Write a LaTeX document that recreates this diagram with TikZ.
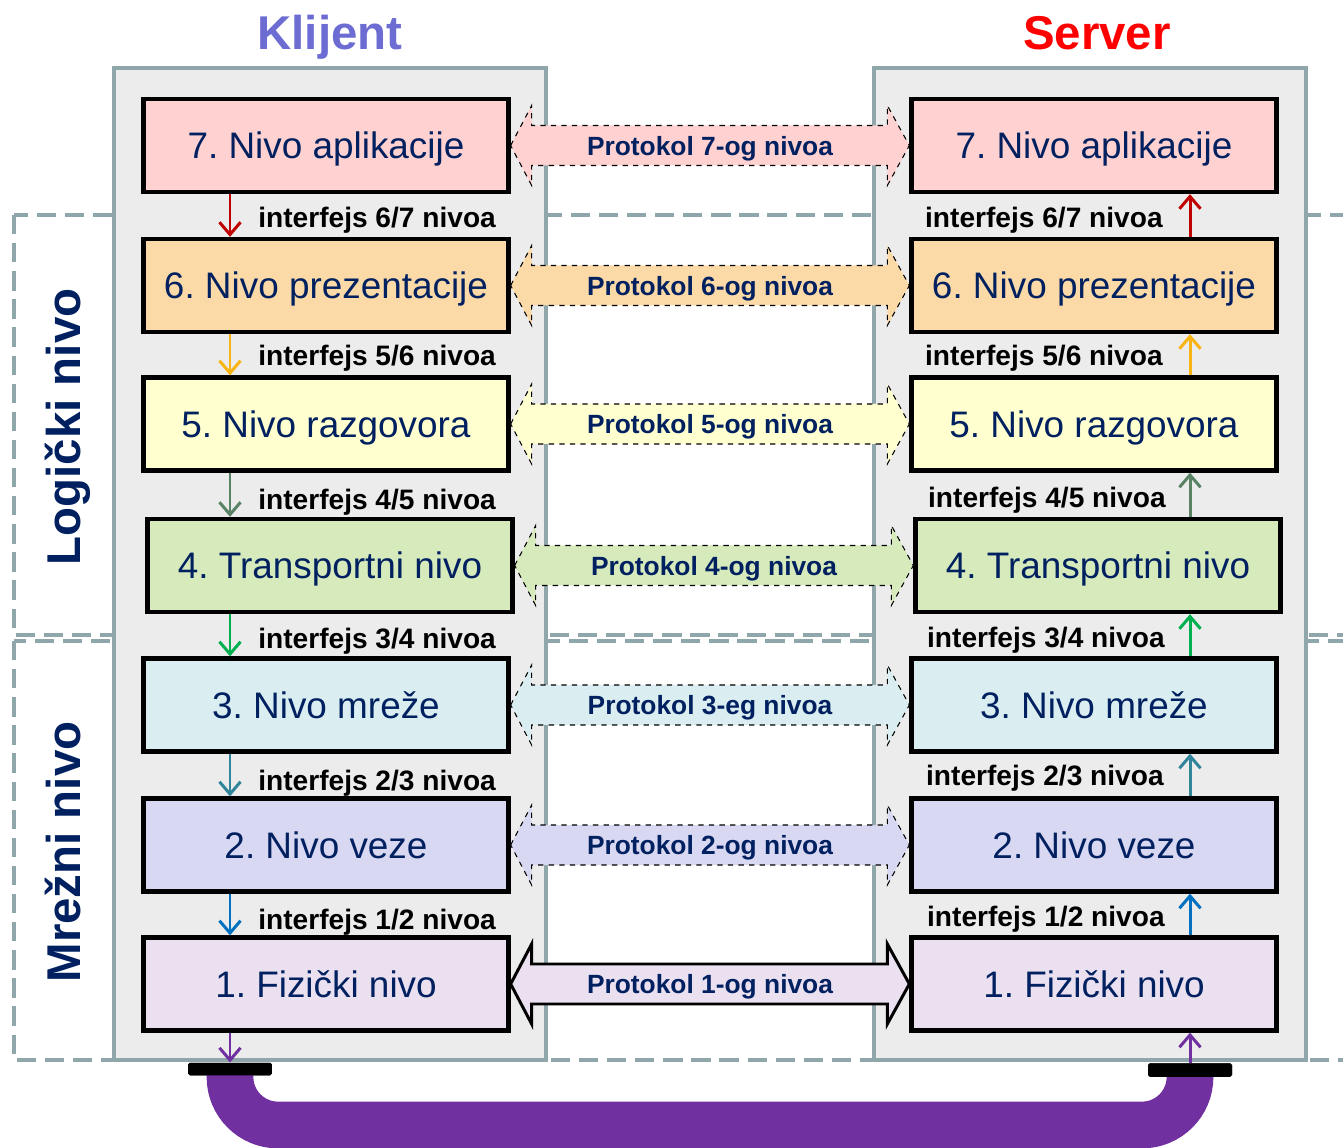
\documentclass[tikz,border=0pt]{standalone}
\usepackage{fontspec}
\setmainfont{Liberation Sans}
\usetikzlibrary{calc,arrows.meta}
\frenchspacing

\definecolor{navy}{RGB}{0,32,96}
\definecolor{klijentplava}{RGB}{108,108,210}
\definecolor{panelrub}{RGB}{143,167,170}
\definecolor{panelboja}{RGB}{236,236,236}
\definecolor{l7}{RGB}{255,209,209}
\definecolor{l6}{RGB}{252,218,167}
\definecolor{l5}{RGB}{255,255,208}
\definecolor{l4}{RGB}{214,234,188}
\definecolor{l3}{RGB}{218,238,241}
\definecolor{l2}{RGB}{216,216,242}
\definecolor{l1}{RGB}{235,224,240}
\definecolor{a7}{RGB}{192,0,0}
\definecolor{a6}{RGB}{247,180,20}
\definecolor{a5}{RGB}{90,130,100}
\definecolor{a4}{RGB}{0,176,80}
\definecolor{a3}{RGB}{49,133,155}
\definecolor{a2}{RGB}{0,112,192}
\definecolor{a1}{RGB}{112,48,160}

\tikzset{
  nivo/.style={draw=black, line width=2.5pt, minimum width=7.3cm, minimum height=1.86cm, inner sep=0pt, text=navy, text height=15.5pt, text depth=0.5pt, font=\fontsize{21}{25}\selectfont},
  interfejs/.style={font=\bfseries\fontsize{16}{19}\selectfont, inner sep=0pt, text height=11.5pt, text depth=0pt},
  prot/.style={draw=black, line width=0.6pt, dashed},
  protpuna/.style={draw=black, line width=1.7pt},
  protnatpis/.style={text=navy, font=\bfseries\fontsize{15}{18}\selectfont, inner sep=0pt, text height=11pt, text depth=0pt},
  veza/.style={line width=1.7pt, -{Straight Barb[length=7pt,width=12pt]}},
  podela/.style={draw=panelrub, line width=2pt, dash pattern=on 11pt off 5pt},
  panel/.style={draw=panelrub, fill=panelboja, line width=2.3pt},
  naslov/.style={font=\bfseries\fontsize{27}{32}\selectfont, inner sep=0pt, text height=19.5pt, text depth=0pt},
  konektor/.style={fill=black, minimum width=1.68cm, minimum height=0.25cm, inner sep=0pt, rounded corners=1pt},
  kabl/.style={draw=a1, line width=26.6pt, rounded corners=0.96cm}
}

\newcommand{\protstrelica}[3]{%
  \draw[#1] (#2) -- ($(#2)+(21,-40)$) -- ($(#2)+(21,-20)$) -- ($(#3)+(-22,-20)$) -- ($(#3)+(-22,-40)$) -- (#3) -- ($(#3)+(-22,40)$) -- ($(#3)+(-22,20)$) -- ($(#2)+(21,20)$) -- ($(#2)+(21,40)$) -- cycle;}

\begin{document}
\begin{tikzpicture}[x=0.02cm, y=-0.02cm]
    \useasboundingbox (0,0) rectangle (1343,1148);
    \clip (0,0) rectangle (1343,1148);

    % podela na logicki i mrezni nivo
    \draw[podela] (14,215) rectangle (1400,635);
    \draw[podela] (14,641) rectangle (1400,1060);

    \node[naslov, rotate=90, text=navy] (logicki) at (63,427) {Logički nivo};
    \node[naslov, rotate=90, text=navy] (mrezni) at (63,852) {Mrežni nivo};

    % kabl
    \node[konektor] (kk) at (230,1069) {};
    \node[konektor, minimum height=0.27cm] (sk) at (1190,1070) {};
    \draw[kabl] (kk.center) |- (sk.center |- 0,1125) -- (sk.center);
    \node[konektor] at (kk) {};
    \node[konektor, minimum height=0.27cm] at (sk) {};

    % paneli
    \draw[panel] (114,68) rectangle (546,1060);
    \draw[panel] (874,68) rectangle (1306,1060);

    \node[naslov, text=klijentplava] (klijent) at (330,32) {Klijent};
    \node[naslov, text=red] (server) at (1097,32) {Server};

    % klijent
    \node[nivo, fill=l7] (k7) at (326,145.5) {7. Nivo aplikacije};
    \node[nivo, fill=l6] (k6) at (326,285.5) {6. Nivo prezentacije};
    \node[nivo, fill=l5] (k5) at (326,424) {5. Nivo razgovora};
    \node[nivo, fill=l4] (k4) at (330,565.5) {4. Transportni nivo};
    \node[nivo, fill=l3] (k3) at (326,705) {3. Nivo mreže};
    \node[nivo, fill=l2] (k2) at (326,845) {2. Nivo veze};
    \node[nivo, fill=l1] (k1) at (326,984) {1. Fizički nivo};

    % server
    \node[nivo, fill=l7] (s7) at (1094,145.5) {7. Nivo aplikacije};
    \node[nivo, fill=l6] (s6) at (1094,285.5) {6. Nivo prezentacije};
    \node[nivo, fill=l5] (s5) at (1094,424) {5. Nivo razgovora};
    \node[nivo, fill=l4] (s4) at (1098,565.5) {4. Transportni nivo};
    \node[nivo, fill=l3] (s3) at (1094,705) {3. Nivo mreže};
    \node[nivo, fill=l2] (s2) at (1094,845) {2. Nivo veze};
    \node[nivo, fill=l1] (s1) at (1094,984) {1. Fizički nivo};

    % interfejsi klijent
    \draw[veza, a7] (230,0 |- k7.south) -- (230,0 |- k6.north);
    \draw[veza, a6] (230,0 |- k6.south) -- (230,0 |- k5.north);
    \draw[veza, a5] (230,0 |- k5.south) -- (230,0 |- k4.north);
    \draw[veza, a4] (230,0 |- k4.south) -- (230,0 |- k3.north);
    \draw[veza, a3] (230,0 |- k3.south) -- (230,0 |- k2.north);
    \draw[veza, a2] (230,0 |- k2.south) -- (230,0 |- k1.north);
    \draw[veza, a1] (kk.north |- k1.south) -- (kk.north);

    \node[interfejs, anchor=west] (ik67) at (258,217) {interfejs 6/7 nivoa};
    \node[interfejs, anchor=west] (ik56) at (258,355) {interfejs 5/6 nivoa};
    \node[interfejs, anchor=west] (ik45) at (258,499) {interfejs 4/5 nivoa};
    \node[interfejs, anchor=west] (ik34) at (258,638) {interfejs 3/4 nivoa};
    \node[interfejs, anchor=west] (ik23) at (258,780) {interfejs 2/3 nivoa};
    \node[interfejs, anchor=west] (ik12) at (258,919) {interfejs 1/2 nivoa};

    % interfejsi server
    \draw[veza, a7] (1190,0 |- s6.north) -- (1190,0 |- s7.south);
    \draw[veza, a6] (1190,0 |- s5.north) -- (1190,0 |- s6.south);
    \draw[veza, a5] (1190,0 |- s4.north) -- (1190,0 |- s5.south);
    \draw[veza, a4] (1190,0 |- s3.north) -- (1190,0 |- s4.south);
    \draw[veza, a3] (1190,0 |- s2.north) -- (1190,0 |- s3.south);
    \draw[veza, a2] (1190,0 |- s1.north) -- (1190,0 |- s2.south);
    \draw[veza, a1] (sk.north) -- (sk.north |- s1.south);

    \node[interfejs, anchor=east] (is67) at (1163,217) {interfejs 6/7 nivoa};
    \node[interfejs, anchor=east] (is56) at (1163,355) {interfejs 5/6 nivoa};
    \node[interfejs, anchor=east] (is45) at (1166,497) {interfejs 4/5 nivoa};
    \node[interfejs, anchor=east] (is34) at (1165,637) {interfejs 3/4 nivoa};
    \node[interfejs, anchor=east] (is23) at (1164,775) {interfejs 2/3 nivoa};
    \node[interfejs, anchor=east] (is12) at (1165,916) {interfejs 1/2 nivoa};

    % protokoli
    \protstrelica{prot, fill=l7}{k7.east}{s7.west}
    \protstrelica{prot, fill=l6}{k6.east}{s6.west}
    \protstrelica{prot, fill=l5}{k5.east}{s5.west}
    \protstrelica{prot, fill=l4}{k4.east}{s4.west}
    \protstrelica{prot, fill=l3}{k3.east}{s3.west}
    \protstrelica{prot, fill=l2}{k2.east}{s2.west}
    \protstrelica{protpuna, fill=l1}{k1.east}{s1.west}

    \node[protnatpis] (p7) at ($(k7.east)!0.5!(s7.west)$) {Protokol 7-og nivoa};
    \node[protnatpis] (p6) at ($(k6.east)!0.5!(s6.west)$) {Protokol 6-og nivoa};
    \node[protnatpis] (p5) at ($(k5.east)!0.5!(s5.west)$) {Protokol 5-og nivoa};
    \node[protnatpis] (p4) at ($(k4.east)!0.5!(s4.west)$) {Protokol 4-og nivoa};
    \node[protnatpis] (p3) at ($(k3.east)!0.5!(s3.west)$) {Protokol 3-eg nivoa};
    \node[protnatpis] (p2) at ($(k2.east)!0.5!(s2.west)$) {Protokol 2-og nivoa};
    \node[protnatpis] (p1) at ($(k1.east)!0.5!(s1.west)$) {Protokol 1-og nivoa};
\end{tikzpicture}
\end{document}
